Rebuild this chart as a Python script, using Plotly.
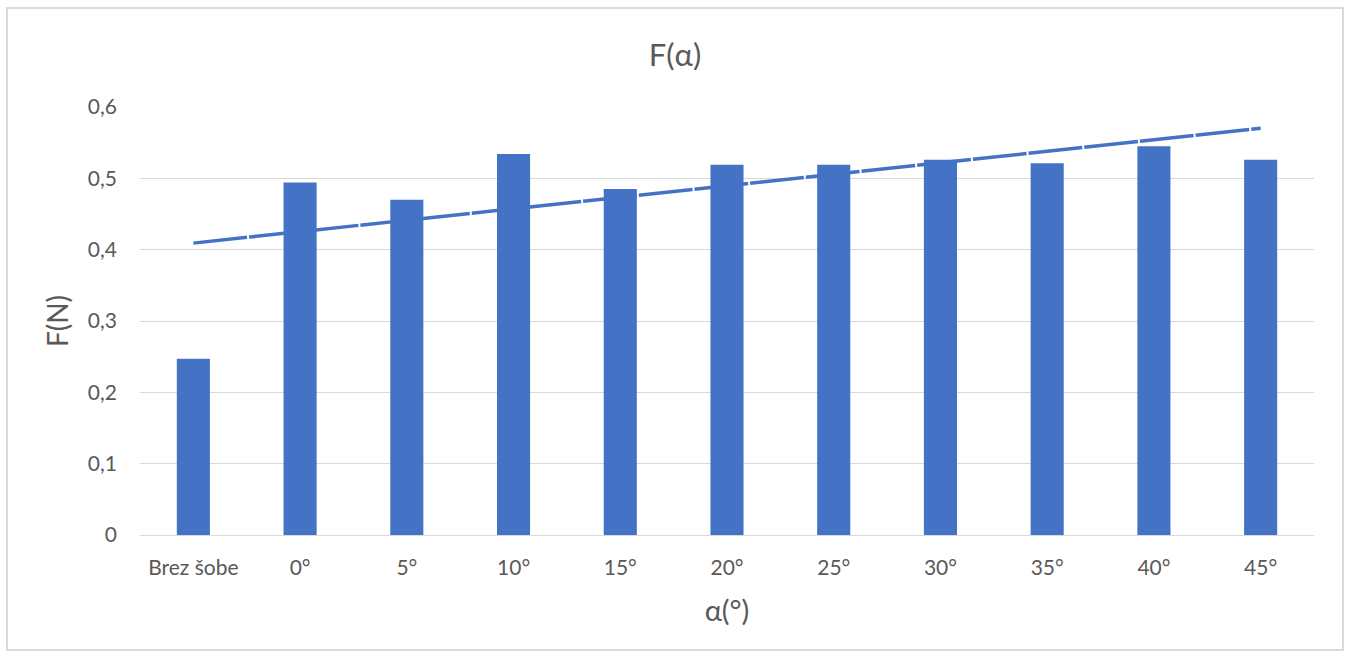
import numpy as np
import plotly.graph_objects as go

# Measured force for each nozzle angle
categories = ["Brez šobe", "0°", "5°", "10°", "15°", "20°", "25°", "30°", "35°", "40°", "45°"]
force = [0.247, 0.494, 0.470, 0.534, 0.485, 0.519, 0.519, 0.526, 0.521, 0.545, 0.526]
y_ticks = [0, 0.1, 0.2, 0.3, 0.4, 0.5, 0.6]
y_tick_labels = ["0", "0,1", "0,2", "0,3", "0,4", "0,5", "0,6"]

BLUE = "#4472C4"
GRID = "#D9D9D9"
TEXT = "#595959"
FONT = "Lato, 'Open Sans', sans-serif"

# Linear trendline over the category index
idx = np.arange(1, len(force) + 1)
slope, intercept = np.polyfit(idx, force, 1)
trend = slope * idx + intercept

W, H = 1349, 657
ml, mr, mt, mb = 140, 35, 107, 122
pw, ph = W - ml - mr, H - mt - mb

fig = go.Figure()
fig.add_trace(go.Bar(x=categories, y=force, marker=dict(color=BLUE, line=dict(width=0)),
                     hoverinfo="x+y"))
fig.add_trace(go.Scatter(x=categories, y=trend, mode="lines",
                         line=dict(color=BLUE, width=3.5, dash="54px,2px")))

fig.update_layout(
    width=W, height=H,
    margin=dict(l=ml, r=mr, t=mt, b=mb),
    paper_bgcolor="white", plot_bgcolor="white",
    showlegend=False, bargap=0.69,
    font=dict(family=FONT, color=TEXT, size=21),
    title=dict(text="F(α)", x=675 / W, xanchor="center",
               y=1 - 55 / H, yanchor="middle", font=dict(size=31, color=TEXT)),
    xaxis=dict(showgrid=False, showline=True, linecolor=GRID, linewidth=1,
               ticks="", ticklabelstandoff=14, tickfont=dict(size=21, color=TEXT),
               title=dict(text="α(°)", font=dict(size=29, color=TEXT), standoff=22)),
    yaxis=dict(range=[0, 0.6], tickvals=y_ticks, ticktext=y_tick_labels,
               showgrid=True, gridcolor=GRID, gridwidth=1, zeroline=False,
               ticks="", ticklabelstandoff=22, tickfont=dict(size=21, color=TEXT),
               title=dict(text="F(N)", font=dict(size=28, color=TEXT), standoff=11)),
)

# Chart frame
fig.add_shape(type="rect", xref="paper", yref="paper",
              x0=(7 - ml) / pw, x1=(1343 - ml) / pw,
              y0=(H - mb - 650) / ph, y1=(H - mb - 8) / ph,
              line=dict(color=GRID, width=2), fillcolor="rgba(0,0,0,0)", layer="below")

fig.write_html("out.html")
